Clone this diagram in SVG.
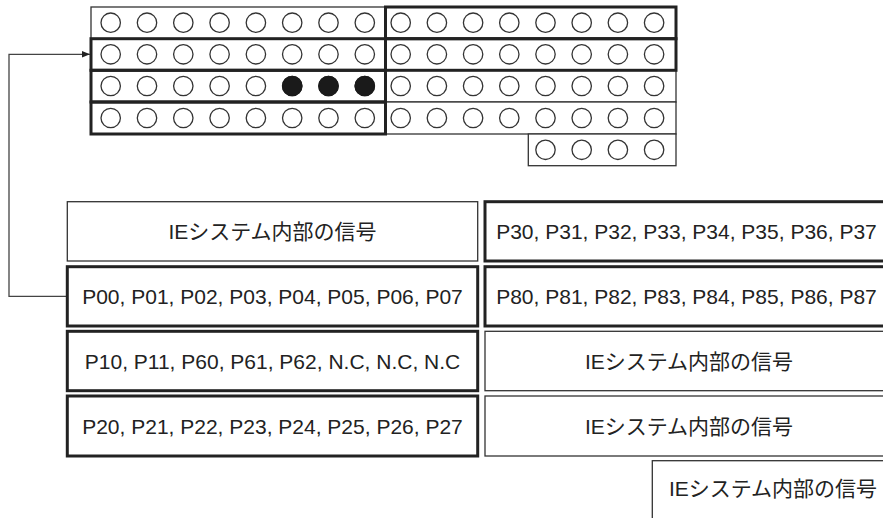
<svg xmlns="http://www.w3.org/2000/svg" width="883" height="518" viewBox="0 0 883 518">
<defs>
<style>
.thin{fill:#fff;stroke:#333;stroke-width:1.3}
.thick{fill:none;stroke:#222;stroke-width:3}
.c{fill:none;stroke:#333;stroke-width:1.3}
.f{fill:#1a1a1a;stroke:#1a1a1a;stroke-width:1.3}
.t{font-family:"Liberation Sans","Noto Sans CJK JP",Arial,sans-serif;font-size:21px;fill:#222;text-anchor:middle}
.conn{fill:none;stroke:#444;stroke-width:1.3}
</style>
<marker id="ah" viewBox="0 0 10 10" refX="10" refY="5" markerWidth="10" markerHeight="8" markerUnits="userSpaceOnUse" orient="auto">
<path d="M0,1 L10,5 L0,9 Z" fill="#222"/>
</marker>
<g id="row8L">
<circle class="c" cx="110.7" cy="0" r="9.7"/><circle class="c" cx="147" cy="0" r="9.7"/><circle class="c" cx="183.3" cy="0" r="9.7"/><circle class="c" cx="219.6" cy="0" r="9.7"/><circle class="c" cx="255.9" cy="0" r="9.7"/><circle class="c" cx="292.2" cy="0" r="9.7"/><circle class="c" cx="328.5" cy="0" r="9.7"/><circle class="c" cx="364.8" cy="0" r="9.7"/>
</g>
<g id="row8R">
<circle class="c" cx="400.7" cy="0" r="9.7"/><circle class="c" cx="436.9" cy="0" r="9.7"/><circle class="c" cx="473.1" cy="0" r="9.7"/><circle class="c" cx="509.3" cy="0" r="9.7"/><circle class="c" cx="545.5" cy="0" r="9.7"/><circle class="c" cx="581.7" cy="0" r="9.7"/><circle class="c" cx="617.9" cy="0" r="9.7"/><circle class="c" cx="654.1" cy="0" r="9.7"/>
</g>
</defs>
<rect width="883" height="518" fill="#fff"/>

<g id="pin-grid">
<rect class="thin" x="91" y="7" width="294.5" height="31.7"/>
<rect class="thin" x="385.5" y="70.3" width="290.5" height="31.7"/>
<rect class="thin" x="385.5" y="102" width="290.5" height="32"/>
<rect class="thin" x="528.3" y="134" width="147.7" height="31.7"/>
<rect class="thick" x="91" y="38.7" width="294.5" height="31.6"/>
<rect class="thick" x="91" y="70.3" width="294.5" height="31.7"/>
<rect class="thick" x="91" y="102" width="294.5" height="32"/>
<rect class="thick" x="385.5" y="7" width="290.5" height="31.7"/>
<rect class="thick" x="385.5" y="38.7" width="290.5" height="31.6"/>
<use href="#row8L" y="22.7"/>
<use href="#row8L" y="54.3"/>
<use href="#row8L" y="86"/>
<use href="#row8L" y="118"/>
<use href="#row8R" y="22.7"/>
<use href="#row8R" y="54.3"/>
<use href="#row8R" y="86"/>
<use href="#row8R" y="118"/>
<circle class="f" cx="292.2" cy="86" r="9.7"/>
<circle class="f" cx="328.5" cy="86" r="9.7"/>
<circle class="f" cx="364.8" cy="86" r="9.7"/>
<circle class="c" cx="545.5" cy="149.8" r="9.7"/>
<circle class="c" cx="581.7" cy="149.8" r="9.7"/>
<circle class="c" cx="617.9" cy="149.8" r="9.7"/>
<circle class="c" cx="654.1" cy="149.8" r="9.7"/>
</g>

<g id="connectors">
<path class="conn" d="M67.3,296.3 H9 V54.3 H90" marker-end="url(#ah)"/>
</g>

<g id="L0">
<rect class="thin" x="67.3" y="201.7" width="410.4" height="59.3"/>
<text class="t" x="272.5" y="239">IEシステム内部の信号</text>
</g>
<g id="L1">
<rect class="thick" x="67.3" y="266.7" width="410.4" height="59.3"/>
<text class="t" x="272.5" y="303.8">P00, P01, P02, P03, P04, P05, P06, P07</text>
</g>
<g id="L2">
<rect class="thick" x="67.3" y="331.3" width="410.4" height="59.4"/>
<text class="t" x="272.5" y="368.5">P10, P11, P60, P61, P62, N.C, N.C, N.C</text>
</g>
<g id="L3">
<rect class="thick" x="67.3" y="396" width="410.4" height="60"/>
<text class="t" x="272.5" y="433.5">P20, P21, P22, P23, P24, P25, P26, P27</text>
</g>

<g id="R0">
<rect class="thick" x="485" y="201.7" width="410" height="59.3"/>
<text class="t" x="686.5" y="239">P30, P31, P32, P33, P34, P35, P36, P37</text>
</g>
<g id="R1">
<rect class="thick" x="485" y="266.7" width="410" height="59.3"/>
<text class="t" x="686.5" y="303.8">P80, P81, P82, P83, P84, P85, P86, P87</text>
</g>
<g id="R2">
<rect class="thin" x="485" y="331.3" width="410" height="59.4"/>
<text class="t" x="689" y="368.5">IEシステム内部の信号</text>
</g>
<g id="R3">
<rect class="thin" x="485" y="396" width="410" height="60"/>
<text class="t" x="689" y="433.5">IEシステム内部の信号</text>
</g>
<g id="R4">
<rect class="thin" x="652.3" y="460.7" width="250" height="80"/>
<text class="t" x="773" y="495.5">IEシステム内部の信号</text>
</g>
</svg>
